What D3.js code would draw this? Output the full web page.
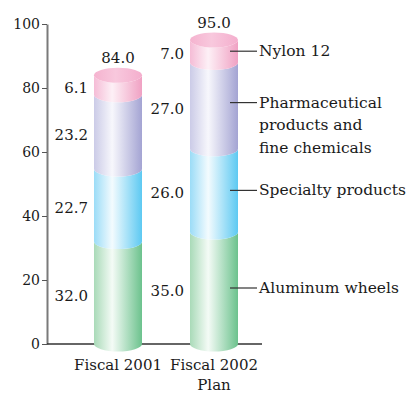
<!DOCTYPE html>
<html lang="en">
<head>
    <meta charset="UTF-8">
    <title>Sales by segment</title>
    <script src="https://d3js.org/d3.v7.min.js"></script>
    <style>
        body { margin: 0; background: #fff; }
        text { font-family: "DejaVu Serif", serif; fill: #1a1a1a; }
    </style>
</head>
<body>
    <svg width="408" height="395"></svg>

    <script>
        // values (billions of yen)
        const categories = ["Fiscal 2001", "Fiscal 2002 Plan"];
        const categoryLines = [["Fiscal 2001"], ["Fiscal 2002", "Plan"]];
        const segments = ["Aluminum wheels", "Specialty products", "Pharmaceutical products and fine chemicals", "Nylon 12"];
        const legendLines = [["Aluminum wheels"], ["Specialty products"], ["Pharmaceutical", "products and", "fine chemicals"], ["Nylon 12"]];
        const aluminumWheels = [32.0, 35.0];
        const specialtyProducts = [22.7, 26.0];
        const pharmaFine = [23.2, 27.0];
        const nylon12 = [6.1, 7.0];
        const totals = [84.0, 95.0];
        const yTicks = [0, 20, 40, 60, 80, 100];

        const svg = d3.select("svg");

        const x = d3.scaleBand().domain(categories).range([70, 262]).paddingInner(0.5).paddingOuter(0.25);
        const y = d3.scaleLinear().domain([0, 100]).range([344, 24]);
        const ry = 7.5;

        // colours per segment: [left edge, highlight, right edge]
        const colors = [
            ["#a9dab8", "#f4fbf6", "#6cc28d"],
            ["#9bdcf7", "#f3fbfe", "#5dc9f2"],
            ["#cbcbe7", "#f7f7fc", "#a4a4d3"],
            ["#f5bcd6", "#fdf0f6", "#f0a1c3"]
        ];

        const defs = svg.append("defs");
        colors.forEach((c, i) => {
            const g = defs.append("linearGradient").attr("id", "g" + i)
                .attr("x1", "0").attr("x2", "1").attr("y1", "0").attr("y2", "0");
            g.append("stop").attr("offset", "0").attr("stop-color", c[0]);
            g.append("stop").attr("offset", "0.38").attr("stop-color", c[1]);
            g.append("stop").attr("offset", "1").attr("stop-color", c[2]);
        });
        const topG = defs.append("linearGradient").attr("id", "gtop")
            .attr("x1", "0").attr("x2", "1").attr("y1", "0").attr("y2", "0");
        topG.append("stop").attr("offset", "0").attr("stop-color", "#f5b3cf");
        topG.append("stop").attr("offset", "0.45").attr("stop-color", "#f8c8dd");
        topG.append("stop").attr("offset", "1").attr("stop-color", "#f4aecd");

        const rows = categories.map((c, i) => ({
            cat: c,
            [segments[0]]: aluminumWheels[i],
            [segments[1]]: specialtyProducts[i],
            [segments[2]]: pharmaFine[i],
            [segments[3]]: nylon12[i]
        }));
        const stacked = d3.stack().keys(segments)(rows);

        // y axis
        const yAxis = svg.append("g")
            .attr("transform", "translate(47,0)")
            .call(d3.axisLeft(y).tickValues(yTicks).tickSize(5).tickSizeOuter(0).tickPadding(2));
        yAxis.select(".domain").attr("stroke", "#7a7a7a").attr("stroke-width", 2);
        yAxis.selectAll(".tick line").attr("stroke", "#555");
        yAxis.selectAll(".tick text").attr("font-size", 14).attr("font-family", "DejaVu Serif").attr("fill", "#1a1a1a");

        // x baseline
        svg.append("line")
            .attr("x1", 47).attr("x2", 262)
            .attr("y1", y(0)).attr("y2", y(0))
            .attr("stroke", "#333").attr("stroke-width", 1.5);

        function sidePath(x0, x1, yTop, yBot) {
            const rx = (x1 - x0) / 2;
            return `M${x0},${yTop}L${x0},${yBot}A${rx},${ry} 0 0 0 ${x1},${yBot}` +
                `L${x1},${yTop}A${rx},${ry} 0 0 1 ${x0},${yTop}Z`;
        }

        // cylinder segments
        stacked.forEach((s, si) => {
            svg.append("g").selectAll("path")
                .data(s)
                .join("path")
                .attr("d", d => sidePath(x(d.data.cat), x(d.data.cat) + x.bandwidth(), y(d[1]), y(d[0])))
                .attr("fill", `url(#g${si})`);
        });

        // top faces
        svg.append("g").selectAll("ellipse")
            .data(categories)
            .join("ellipse")
            .attr("cx", d => x(d) + x.bandwidth() / 2)
            .attr("cy", (d, i) => y(totals[i]))
            .attr("rx", x.bandwidth() / 2)
            .attr("ry", ry)
            .attr("fill", "url(#gtop)");

        // value labels
        stacked.forEach(s => {
            svg.append("g").selectAll("text")
                .data(s)
                .join("text")
                .attr("x", d => x(d.data.cat) - 6)
                .attr("y", d => y((d[0] + d[1]) / 2) + 8)
                .attr("text-anchor", "end")
                .attr("font-size", 15)
                .text(d => d3.format(".1f")(d[1] - d[0]));
        });

        // totals
        svg.append("g").selectAll("text")
            .data(categories)
            .join("text")
            .attr("x", d => x(d) + x.bandwidth() / 2)
            .attr("y", (d, i) => y(totals[i]) - 12)
            .attr("text-anchor", "middle")
            .attr("font-size", 15)
            .text((d, i) => d3.format(".1f")(totals[i]));

        // category labels
        categories.forEach((c, i) => {
            const t = svg.append("text")
                .attr("x", x(c) + x.bandwidth() / 2)
                .attr("y", 370)
                .attr("text-anchor", "middle")
                .attr("font-size", 15);
            categoryLines[i].forEach((line, li) => {
                t.append("tspan").attr("x", x(c) + x.bandwidth() / 2).attr("dy", li ? 20 : 0).text(line);
            });
        });

        // legend leaders, drawn from the second cylinder
        const last = categories.length - 1;
        const lx = x(categories[last]) + x.bandwidth();
        stacked.forEach((s, si) => {
            const d = s[last];
            const ly = y((d[0] + d[1]) / 2) + (legendLines[si].length > 1 ? -3 : 0);
            svg.append("line")
                .attr("x1", lx - 8).attr("x2", lx + 19)
                .attr("y1", ly).attr("y2", ly)
                .attr("stroke", "#333").attr("stroke-width", 1.2);
            const t = svg.append("text")
                .attr("x", lx + 21)
                .attr("y", ly + 5)
                .attr("font-size", 15.5);
            legendLines[si].forEach((line, li) => {
                t.append("tspan").attr("x", lx + 21).attr("dy", li ? 22.5 : 0).text(line);
            });
        });
    </script>
</body>
</html>
